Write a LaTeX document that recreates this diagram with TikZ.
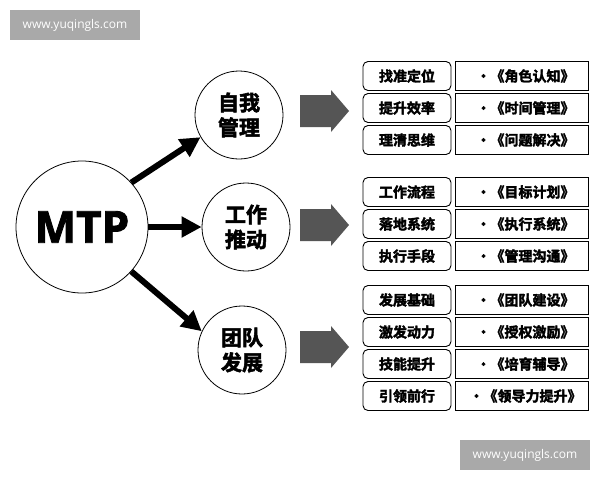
\documentclass[tikz,border=0pt]{standalone}
\usepackage{fontspec}
\setmainfont{Noto Sans CJK SC}[BoldFont={Noto Sans CJK SC Bold},BoldFeatures={FakeBold=2.5}]
\setsansfont{Open Sans}[BoldFont={Open Sans Bold},BoldFeatures={FakeBold=2}]
\usetikzlibrary{arrows.meta}
\definecolor{wm}{HTML}{A9A9A9}
\definecolor{blk}{HTML}{555555}
\begin{document}
\begin{tikzpicture}[x=1pt,y=-1pt,
  circ/.style={circle,draw,line width=0.8pt,fill=white,inner sep=0pt},
  conn/.style={line width=6pt,-{Triangle[length=20pt,width=20pt]}},
  lbox/.style={draw,line width=0.9pt,rounded corners=5pt,minimum width=88pt,minimum height=29pt,inner sep=0pt,font=\bfseries\fontsize{14}{14}\selectfont},
  rbox/.style={draw,line width=0.9pt,minimum width=133pt,minimum height=29pt,inner sep=0pt,font=\bfseries\fontsize{14}{14}\selectfont},
  wmk/.style={fill=wm,text=white,minimum width=130pt,minimum height=30pt,inner sep=0pt,font=\sffamily\fontsize{12}{12}\selectfont}]
\useasboundingbox[fill=white] (0,0) rectangle (600,480);
\node[wmk] (w1) at (75,25) {www.yuqingls.com};
\node[wmk] (w2) at (525,455) {www.yuqingls.com};
\node[circ,minimum size=132pt,font=\sffamily\bfseries\fontsize{44}{44}\selectfont] (m) at (82,227) {MTP};
\node[circ,minimum size=88pt,align=center,font=\bfseries\fontsize{21}{25}\selectfont] (c1) at (239,115) {自我\\管理};
\node[circ,minimum size=88pt,align=center,font=\bfseries\fontsize{21}{25}\selectfont] (c2) at (246,227) {工作\\推动};
\node[circ,minimum size=88pt,align=center,font=\bfseries\fontsize{21}{25}\selectfont] (c3) at (242,350) {团队\\发展};
\draw[conn] (m.42) -- (c1.210);
\draw[conn] (m.east) -- (c2.west);
\draw[conn] (m.-42) -- (c3.155);
\foreach \y [count=\i] in {111,225,347}{
  \fill[blk] (300,\y-16) -- (331,\y-16) -- (331,\y-21) -- (349,\y) -- (331,\y+21) -- (331,\y+16) -- (300,\y+16) -- cycle;
}
\foreach \y/\l/\r [count=\i] in {76/找准定位/角色认知,108/提升效率/时间管理,140/理清思维/问题解决,
  192/工作流程/目标计划,224/落地系统/执行系统,256/执行手段/管理沟通,
  300/发展基础/团队建设,332/激发动力/授权激励,364/技能提升/培育辅导,396/引领前行/领导力提升}{
  \node[lbox] (l\i) at (407,\y) {\l};
  \node[rbox] (r\i) at (521.5,\y) {\hspace{8pt}·\hfill《\r》\hspace{3pt}};
}
\end{tikzpicture}
\end{document}
